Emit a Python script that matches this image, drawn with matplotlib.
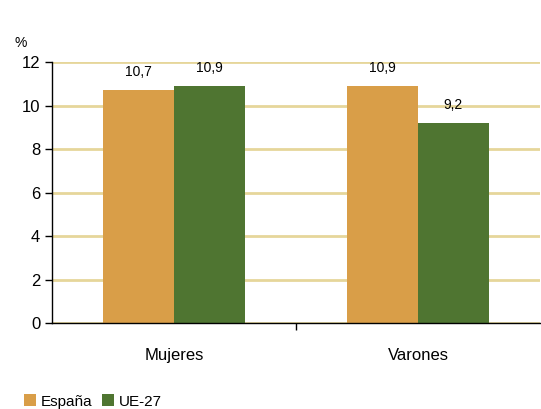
import numpy as np
from matplotlib import pyplot as plt

plt.rcParams['font.family'] = ['Liberation Sans', 'DejaVu Sans']

categories = ['Mujeres', 'Varones']
series_names = ['España', 'UE-27']
espana = [10.7, 10.9]
ue27 = [10.9, 9.2]
value_labels = [['10,7', '10,9'], ['10,9', '9,2']]
colors = ['#d99e48', '#4f7531']

fig = plt.figure(figsize=(5.41, 4.09), dpi=100)
ax = fig.add_axes([0.096, 0.21, 0.902, 0.638])

x = np.arange(len(categories))
width = 0.29
series = [espana, ue27]
for i, (name, vals) in enumerate(zip(series_names, series)):
    pos = x + (i - 0.5) * width
    ax.bar(pos, vals, width, color=colors[i], label=name, zorder=3)
    for p, v, lab in zip(pos, vals, value_labels[i]):
        ax.annotate(lab, (p, v), xytext=(0, 13), textcoords='offset points',
                    ha='center', va='center', fontsize=10)

ax.set_xlim(-0.5, 1.5)
ax.set_ylim(0, 12)
ax.set_yticks(range(0, 13, 2))
ax.tick_params(axis='y', labelsize=12, length=5, width=1)
ax.set_xticks([0.5])
ax.set_xticklabels([''])
ax.tick_params(axis='x', length=5, width=1)
for xi, cat in zip(x, categories):
    ax.text(xi, -0.125, cat, transform=ax.get_xaxis_transform(),
            ha='center', va='center', fontsize=12)

ax.yaxis.grid(True, color='#e6d69a', linewidth=2, zorder=0)
ax.set_axisbelow(True)
for s in ['top', 'right']:
    ax.spines[s].set_visible(False)
ax.spines['left'].set_linewidth(1)
ax.spines['bottom'].set_linewidth(1)
ax.spines['bottom'].set_zorder(4)

fig.text(0.026, 0.895, '%', fontsize=10, va='center')

fig.legend(loc='lower left', bbox_to_anchor=(0.025, -0.025), ncol=2, frameon=False,
           fontsize=11, handlelength=0.8, handleheight=0.8, handletextpad=0.3,
           columnspacing=0.6, borderpad=0.2)

fig.savefig('out.png', dpi=100)
